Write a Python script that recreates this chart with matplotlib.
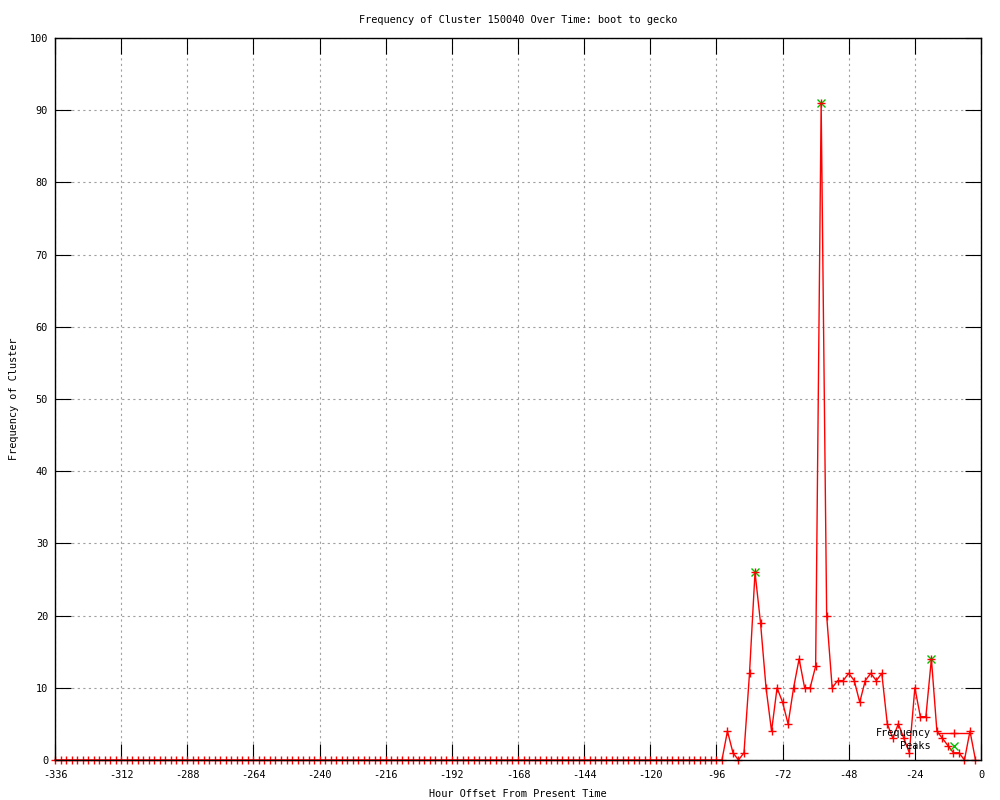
import matplotlib
matplotlib.use("Agg")
import matplotlib.pyplot as plt

# hours before present, one reading every 2 hours
hours = list(range(-336, 0, 2))

# all zero from -336 to -94, then activity in the last few days
freq = [0] * 122 + [
    4, 1, 0, 1, 12, 26, 19, 10, 4, 10,
    8, 5, 10, 14, 10, 10, 13, 91, 20, 10,
    11, 11, 12, 11, 8, 11, 12, 11, 12, 5,
    3, 5, 3, 1, 10, 6, 6, 14, 4, 3,
    2, 1, 1, 0, 4, 0,
]

peak_hours = [-82, -58, -18]
peak_freq = [26, 91, 14]

x_ticks = list(range(-336, 1, 24))
y_ticks = list(range(0, 101, 10))

plt.rcParams['font.family'] = 'DejaVu Sans Mono'
plt.rcParams['font.size'] = 7.4
plt.rcParams['axes.unicode_minus'] = False

fig = plt.figure(figsize=(10, 8), dpi=100)
ax = fig.add_axes([0.055, 0.05, 0.926, 0.9025])

ax.plot(hours, freq, color='red', lw=1, marker='+', ms=6, mew=1,
        clip_on=False, zorder=3, label='Frequency')
ax.plot(peak_hours, peak_freq, ls='none', color='#00c000', marker='x',
        ms=6, mew=1, clip_on=False, zorder=2, label='Peaks')

ax.set_xlim(-336, 0)
ax.set_ylim(0, 100)
ax.set_xticks(x_ticks)
ax.set_yticks(y_ticks)
ax.tick_params(direction='in', length=11.5, width=0.8, top=True, right=True,
               colors='black')
ax.tick_params(axis='x', pad=7)
ax.tick_params(axis='y', pad=5)

ax.grid(True, color='#a0a0a0', lw=0.8, ls=(0, (2, 3)))
for s in ax.spines.values():
    s.set_linewidth(1)
    s.set_zorder(4)

ax.set_title('Frequency of Cluster 150040 Over Time: boot to gecko',
             fontsize=7.4, pad=11)
ax.set_xlabel('Hour Offset From Present Time', labelpad=6.5)
ax.set_ylabel('Frequency of Cluster', labelpad=8)

ax.legend(loc='lower right', bbox_to_anchor=(0.99, 0.012), frameon=False,
          markerfirst=False, handlelength=3.4, handletextpad=0.6,
          borderpad=0, borderaxespad=0, labelspacing=0.3, numpoints=1)

fig.savefig('out.png', dpi=100)
